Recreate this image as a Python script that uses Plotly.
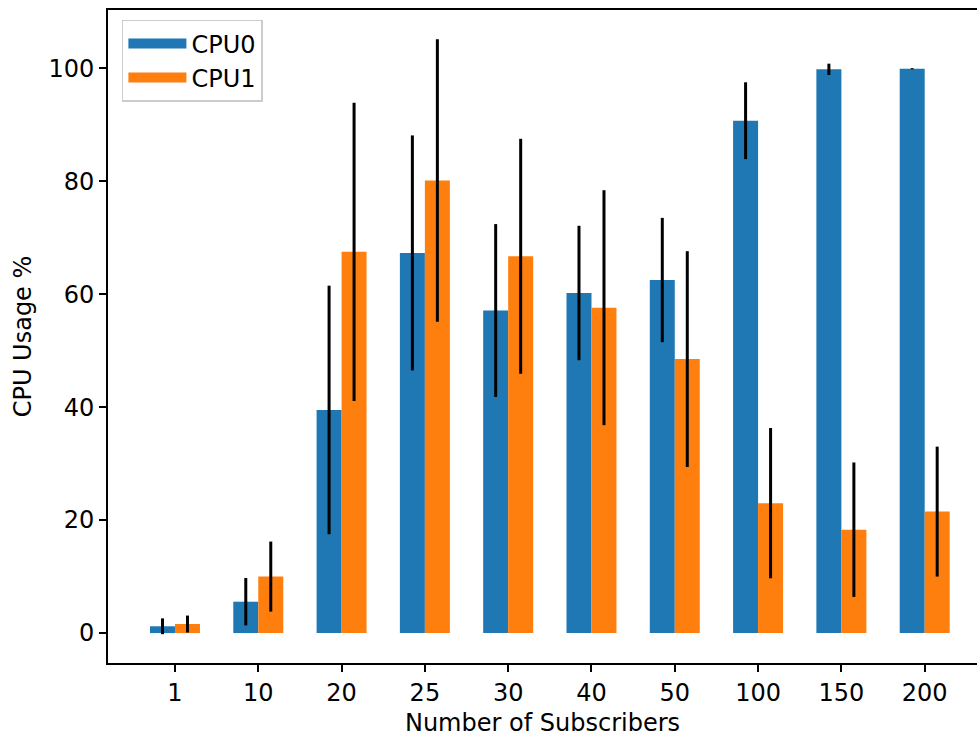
import plotly.graph_objects as go

categories = ["1", "10", "20", "25", "30", "40", "50", "100", "150", "200"]
cpu0 = [1.2, 5.55, 39.5, 67.3, 57.1, 60.2, 62.5, 90.7, 99.8, 99.9]
cpu0_err = [1.4, 4.2, 22.0, 20.8, 15.3, 11.9, 11.0, 6.8, 1.0, 0.1]
cpu1 = [1.6, 10.0, 67.5, 80.1, 66.7, 57.6, 48.5, 23.0, 18.3, 21.5]
cpu1_err = [1.5, 6.2, 26.4, 25.0, 20.8, 20.8, 19.1, 13.3, 11.9, 11.5]
series_names = ["CPU0", "CPU1"]
colors = ["#1f77b4", "#ff7f0e"]

FONT = "DejaVu Sans"
FS = 24

fig = go.Figure()
for name, vals, errs, col in zip(series_names, [cpu0, cpu1], [cpu0_err, cpu1_err], colors):
    fig.add_trace(go.Bar(
        x=categories, y=vals, name=name, showlegend=False,
        marker=dict(color=col, line=dict(width=0)),
        error_y=dict(type="data", array=errs, visible=True,
                     color="black", thickness=3, width=0),
    ))
# legend entries drawn as wide swatches
for name, col in zip(series_names, colors):
    fig.add_trace(go.Scatter(
        x=[None], y=[None], mode="lines", name=name,
        line=dict(color=col, width=17),
    ))

fig.update_layout(
    width=977, height=737,
    margin=dict(l=108, r=0, t=10, b=74),
    barmode="group", bargap=0.4, bargroupgap=0,
    plot_bgcolor="white", paper_bgcolor="white",
    font=dict(family=FONT, size=FS, color="black"),
    showlegend=True,
    legend=dict(
        x=0.016, y=0.985, xanchor="left", yanchor="top",
        bgcolor="rgba(255,255,255,0.9)", bordercolor="#cccccc", borderwidth=1.5,
        font=dict(family=FONT, size=FS, color="black"),
        itemwidth=58, tracegroupgap=4,
    ),
    xaxis=dict(
        type="category", range=[-0.804, 9.628],
        showgrid=False, zeroline=False,
        showline=True, linecolor="black", linewidth=2, mirror=True,
        ticks="outside", ticklen=7, tickwidth=1.5, tickcolor="black",
        tickfont=dict(family=FONT, size=FS),
        title=dict(text="Number of Subscribers", font=dict(family=FONT, size=FS), standoff=8),
    ),
    yaxis=dict(
        range=[-5.3, 110.3],
        tickvals=[0, 20, 40, 60, 80, 100],
        showgrid=False, zeroline=False,
        showline=True, linecolor="black", linewidth=2, mirror=False,
        ticks="outside", ticklen=7, tickwidth=1.5, tickcolor="black",
        tickfont=dict(family=FONT, size=FS),
        title=dict(text="CPU Usage %", font=dict(family=FONT, size=FS), standoff=10),
    ),
)

fig.write_html("out.html")
